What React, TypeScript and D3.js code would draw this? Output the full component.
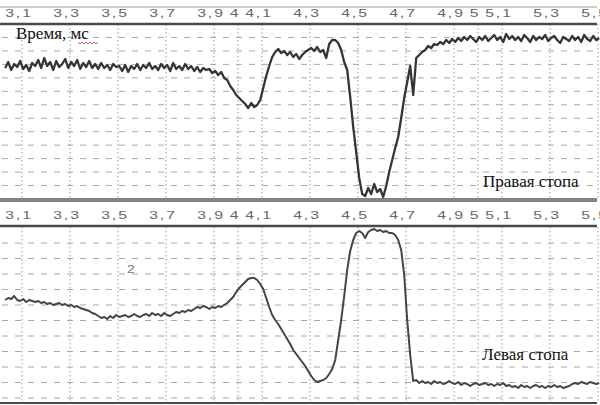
import React from 'react'
import * as d3 from 'd3'

// time axis (ms), same for both panels
const ticks = [3.1, 3.3, 3.5, 3.7, 3.9, 4, 4.1, 4.3, 4.5, 4.7, 4.9, 5, 5.1, 5.3, 5.5]
const tickLabels = ticks.map(t => String(t).replace('.', ','))

// uniform sampling of the recorder
const T0 = 3.03
const DT = 0.0125

// right foot (top trace), amplitude in arbitrary units
const rightFoot = [
  131, 137, 129, 135, 132, 138, 130, 134, 128, 136,
  133, 139, 131, 141, 133, 137, 129, 138, 132, 135,
  140, 131, 137, 133, 139, 130, 136, 132, 138, 131,
  135, 130, 136, 131, 134, 129, 135, 132, 133, 128,
  134, 127, 133, 130, 135, 129, 134, 131, 136, 130,
  133, 129, 135, 131, 134, 128, 136, 130, 133, 129,
  135, 130, 133, 128, 132, 127, 131, 129, 130, 126,
  128, 124, 127, 121, 119, 113, 109, 104, 101, 98,
  95, 91, 96, 92, 94, 99, 111, 123, 133, 142,
  147, 150, 146, 148, 144, 147, 142, 145, 140, 144,
  147, 149, 151, 148, 152, 147, 149, 141, 155, 159,
  159, 156, 149, 137, 129, 102, 72, 47, 21, 5,
  3, 11, 5, 15, 7, 10, 2, 13, 27, 39,
  51, 62, 81, 101, 117, 133, 104, 141, 144, 147,
  149, 153, 151, 155, 154, 157, 155, 159, 156, 160,
  157, 161, 158, 162, 159, 163, 160, 157, 162, 159,
  163, 158, 161, 164, 159, 162, 157, 165, 160, 163,
  159, 162, 158, 164, 161, 157, 163, 159, 162, 160,
  164, 158, 161, 163, 159, 156, 162, 160, 158, 163,
  159, 162, 157, 164, 160, 158, 163, 159, 161,
]

// left foot (bottom trace)
const leftFoot = [
  103, 105, 104, 107, 103, 102, 104, 101, 103, 102,
  101, 102, 100, 101, 99, 100, 98, 99, 100, 98,
  99, 97, 98, 96, 97, 95, 94, 93, 92, 90,
  89, 87, 85, 86, 84, 87, 85, 88, 86, 87,
  88, 86, 87, 89, 87, 86, 88, 89, 87, 90,
  88, 89, 87, 90, 88, 87, 89, 91, 90, 92,
  91, 93, 92, 94, 96, 95, 97, 96, 94, 96,
  95, 97, 96, 98, 100, 103, 106, 111, 115, 118,
  121, 124, 125, 125, 123, 119, 114, 105, 96, 88,
  83, 79, 74, 69, 64, 59, 53, 49, 45, 41,
  37, 32, 27, 23, 21, 22, 23, 25, 29, 34,
  43, 63, 83, 107, 133, 152, 163, 170, 172, 170,
  165, 171, 173, 174, 172, 173, 171, 172, 170, 170,
  168, 163, 153, 128, 83, 48, 22, 23, 20, 22,
  20, 21, 19, 22, 20, 21, 19, 20, 22, 20,
  19, 21, 18, 20, 19, 17, 19, 20, 18, 19,
  20, 18, 19, 17, 19, 18, 20, 17, 18, 16,
  17, 15, 18, 16, 17, 15, 17, 18, 16, 17,
  15, 17, 16, 18, 16, 17, 15, 16, 17, 19,
  20, 19, 21, 20, 19, 21, 20, 19, 20,
]

const W = 600
const H = 405

export default function App() {
  const x = d3.scaleLinear().domain([3.1, 5.5]).range([22, 598])
  const yTop = d3.scaleLinear().domain([0, 175]).range([199, 24])
  const yBot = d3.scaleLinear().domain([0, 176]).range([403, 227])

  const topGrid = d3.range(1, 13).map(i => (175 / 13) * i)
  const botGrid = d3.range(0, 11).map(i => 5 + 15.5 * i)

  const lineTop = d3.line<number>()
    .x((_, i) => x(T0 + i * DT))
    .y(d => yTop(d))
  const lineBot = d3.line<number>()
    .x((_, i) => x(T0 + i * DT))
    .y(d => yBot(d))

  const gridColor = '#a8a8a8'
  const sans = { fontFamily: "'Liberation Sans', Arial, sans-serif" }
  const serif = { fontFamily: "'Liberation Serif', 'DejaVu Serif', serif" }

  const axisLabels = (yBase: number) =>
    ticks.map((t, i) => (
      <text
        key={'l' + yBase + i}
        transform={`translate(${x(t) - 3},${yBase}) scale(1.5,1)`}
        textAnchor="middle"
        style={sans}
        fontSize={10.5}
        letterSpacing={1.3}
        fill="#666"
      >
        {tickLabels[i]}
      </text>
    ))

  // red spell-check squiggle under "мс"
  const squiggle = d3.range(0, 11).map(i => [78 + i * 2, i % 2 === 0 ? 42 : 44] as [number, number])

  return (
    <svg width={W} height={H} style={{ position: 'absolute', left: 0, top: 0, background: '#fff' }}>
      {/* grids */}
      {topGrid.map((v, i) => (
        <line key={'ht' + i} x1={2} x2={597} y1={yTop(v)} y2={yTop(v)}
          stroke={gridColor} strokeWidth={1} strokeDasharray="6,7" />
      ))}
      {botGrid.map((v, i) => (
        <line key={'hb' + i} x1={2} x2={597} y1={yBot(v)} y2={yBot(v)}
          stroke={gridColor} strokeWidth={1} strokeDasharray="6,7" />
      ))}
      {ticks.map((t, i) => (
        <g key={'v' + i}>
          <line x1={x(t)} x2={x(t)} y1={yTop(175)} y2={yTop(0)}
            stroke="#9a9a9a" strokeWidth={1} strokeDasharray="1.5,2.5" />
          <line x1={x(t)} x2={x(t)} y1={yBot(176)} y2={yBot(0) - 1}
            stroke="#9a9a9a" strokeWidth={1} strokeDasharray="1.5,2.5" />
        </g>
      ))}

      {/* frame lines */}
      <line x1={0} x2={597} y1={7} y2={7} stroke="#9c9c9c" strokeWidth={1} />
      <line x1={0} x2={597} y1={yTop(175)} y2={yTop(175)} stroke="#4a4a4a" strokeWidth={2.5} />
      <line x1={0} x2={597} y1={yTop(0)} y2={yTop(0)} stroke="#5a5a5a" strokeWidth={1.5} />
      <line x1={0} x2={597} y1={201} y2={201} stroke="#5a5a5a" strokeWidth={1.5} />
      <line x1={0} x2={597} y1={yBot(176) - 1} y2={yBot(176) - 1} stroke="#4a4a4a" strokeWidth={2.5} />
      <line x1={0} x2={597} y1={yBot(0)} y2={yBot(0)} stroke="#4a4a4a" strokeWidth={2} />

      {axisLabels(17)}
      {axisLabels(219)}

      {/* traces */}
      <path d={lineTop(rightFoot) || ''} fill="none" stroke="#353535" strokeWidth={2.3} strokeLinejoin="round" />
      <path d={lineBot(leftFoot) || ''} fill="none" stroke="#454545" strokeWidth={2} strokeLinejoin="round" />

      {/* annotations */}
      <text x={16} y={39} style={serif} fontSize={17} fill="#111">Время, мс</text>
      <path d={d3.line()(squiggle) || ''} fill="none" stroke="#d03030" strokeWidth={0.8} />
      <text x={483} y={187} style={serif} fontSize={17} fill="#111">Правая стопа</text>
      <text x={482} y={360} style={serif} fontSize={17} fill="#111">Левая стопа</text>
      <text transform="translate(131,273) scale(1.4,1)" textAnchor="middle"
        style={sans} fontSize={10} fill="#777">2</text>
    </svg>
  )
}
